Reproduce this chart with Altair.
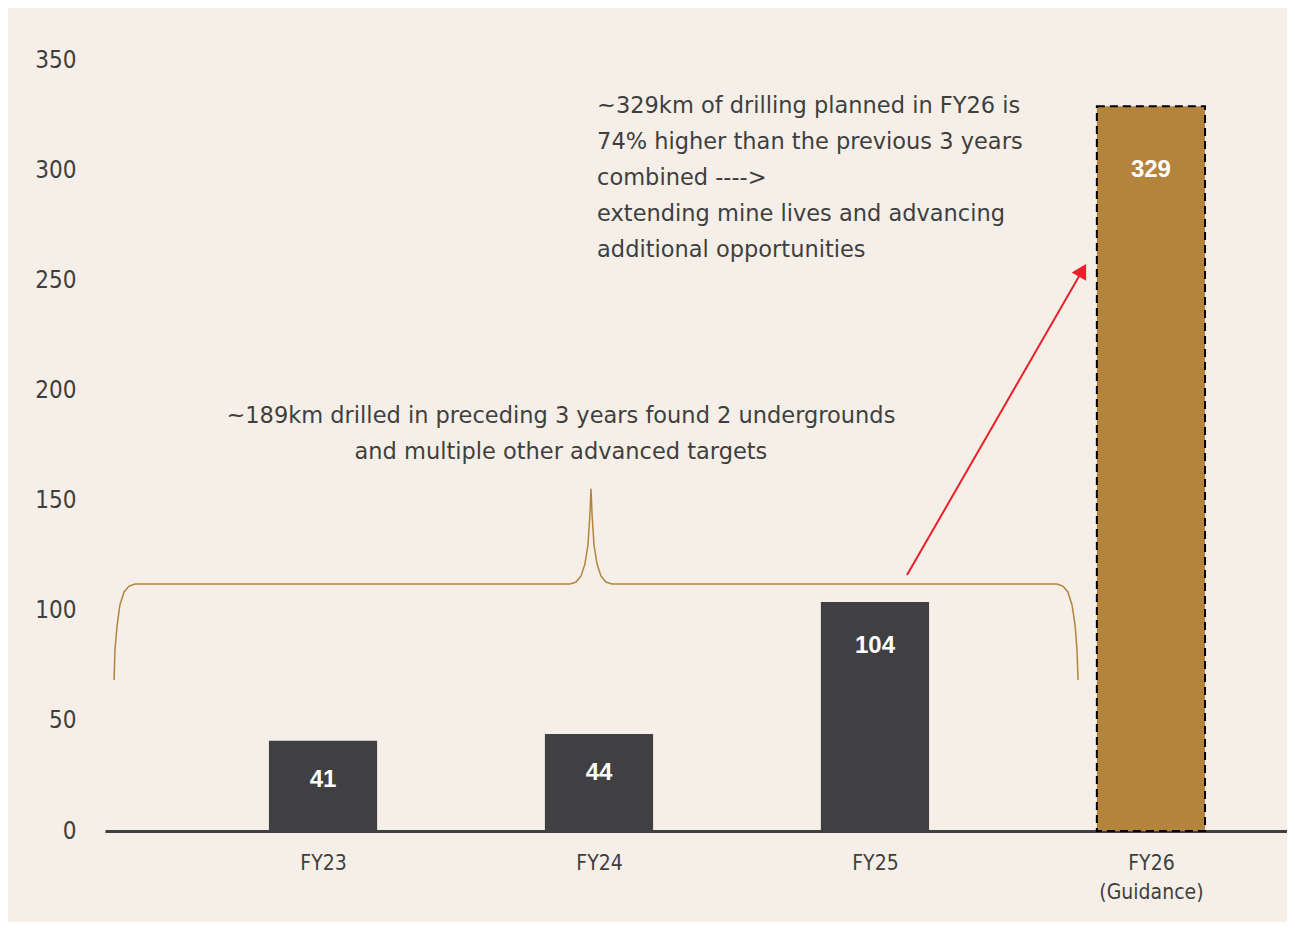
import json
import altair as alt
import pandas as pd

# ---------------- data ----------------
categories = ["FY23", "FY24", "FY25", "FY26"]
axis_labels = [["FY23"], ["FY24"], ["FY25"], ["FY26", "(Guidance)"]]
positions = [0, 1, 2, 3]
values = [41, 44, 104, 329]

# curly brace (x in category-index units, y in km)
brace_x = [-0.757, -0.754, -0.746, -0.736, -0.721, -0.703, -0.681,
           0.895, 0.917, 0.935, 0.949, 0.960, 0.967, 0.971,
           0.975, 0.982, 0.993, 1.007, 1.025, 1.047,
           2.659, 2.681, 2.699, 2.714, 2.725, 2.732, 2.736]
brace_y = [68.5, 82.2, 93.5, 102.6, 108.5, 111.2, 112.1,
           112.1, 113.0, 115.8, 121.2, 129.8, 143.4, 155.3,
           143.4, 129.8, 121.2, 115.8, 113.0, 112.1,
           112.1, 111.2, 108.5, 102.6, 93.5, 82.2, 68.5]

# red arrow (from, head)
arrow_x = [2.116, 2.752]
arrow_y = [116.2, 254.5]

note_top = ["~329km of drilling planned in FY26 is",
            "74% higher than the previous 3 years",
            "combined ---->",
            "extending mine lives and advancing",
            "additional opportunities"]
note_top_pos = (0.993, 329.1)

note_mid = ["~189km drilled in preceding 3 years found 2 undergrounds",
            "and multiple other advanced targets"]
note_mid_pos = (0.862, 188.4)

# ---------------- styles ----------------
BG = "#F5EFE8"
DARK = "#404042"
GOLD = "#B5843C"
TEXT = "#3F3F3F"
RED = "#E8202A"
NOTE_FONT = "DejaVu Sans"
XLAB_FONT = "DejaVu Sans Condensed"
YLAB_FONT = "Liberation Sans Narrow, DejaVu Sans Condensed"
BAR_FONT = "Liberation Sans"

bars = pd.DataFrame({"cat": categories, "pos": positions, "km": values})
brace = pd.DataFrame({"x": brace_x, "y": brace_y, "o": list(range(len(brace_x)))})
arrow = pd.DataFrame({"x": arrow_x, "y": arrow_y, "o": [0, 1]})
head = pd.DataFrame({"x": [arrow_x[-1]], "y": [arrow_y[-1]]})
notes = pd.DataFrame({
    "x": [note_top_pos[0], note_mid_pos[0]],
    "y": [note_top_pos[1], note_mid_pos[1]],
    "t": ["\n".join(note_top), "\n".join(note_mid)],
    "a": ["left", "center"],
})

label_expr = json.dumps(axis_labels) + "[datum.value]"

xscale = alt.Scale(domain=[-0.790, 3.493], nice=False, zero=False)
yscale = alt.Scale(domain=[0, 350], nice=False)

xaxis = alt.Axis(values=positions, labelExpr=label_expr, title=None, grid=False,
                 ticks=False, domain=True, domainColor="#404042", domainWidth=3,
                 labelFont=XLAB_FONT, labelFontSize=21, labelColor=TEXT, labelPadding=21,
                 labelLineHeight=29, labelFlush=False, labelOverlap=False)
yaxis = alt.Axis(values=[0, 50, 100, 150, 200, 250, 300, 350], title=None, grid=False,
                 ticks=False, domain=False, labelFont=YLAB_FONT, labelFontSize=24,
                 labelColor=TEXT, labelPadding=29)


def X(field):
    return alt.X(field, scale=xscale, axis=xaxis)


def Y(field):
    return alt.Y(field, scale=yscale, axis=yaxis)


base = alt.Chart(bars).transform_calculate(
    x0="datum.pos - 0.196", x1="datum.pos + 0.196",
    ly="datum.km - (16 + 0.04 * datum.km)"
)

dark_bars = base.transform_filter("datum.pos < 3").mark_bar(color=DARK).encode(
    x=X("x0:Q"), x2="x1:Q", y=Y("km:Q"), y2=alt.datum(0),
)
gold_bar = base.transform_filter("datum.pos == 3").mark_bar(
    color=GOLD, stroke="black", strokeWidth=2, strokeDash=[8, 5]
).encode(
    x=X("x0:Q"), x2="x1:Q", y=Y("km:Q"), y2=alt.datum(0),
)
bar_text = base.mark_text(color="white", font=BAR_FONT, fontSize=24, fontWeight="bold",
                          baseline="middle", align="center").encode(
    x=X("pos:Q"), y=Y("ly:Q"), text="km:Q",
)

brace_line = alt.Chart(brace).mark_line(color=GOLD, strokeWidth=1.5).encode(
    x=X("x:Q"), y=Y("y:Q"), order="o:Q",
)
arrow_line = alt.Chart(arrow).mark_line(color=RED, strokeWidth=2).encode(
    x=X("x:Q"), y=Y("y:Q"), order="o:Q",
)
arrow_head = alt.Chart(head).mark_point(shape="triangle-up", filled=True, color=RED,
                                        opacity=1, size=280, angle=30).encode(
    x=X("x:Q"), y=Y("y:Q"),
)

note_left = alt.Chart(notes).transform_filter("datum.a == 'left'").mark_text(
    align="left", baseline="middle", font=NOTE_FONT, fontSize=22.5, color=TEXT,
    lineBreak="\n", lineHeight=36).encode(
    x=X("x:Q"), y=Y("y:Q"), text="t:N",
)
note_center = alt.Chart(notes).transform_filter("datum.a == 'center'").mark_text(
    align="center", baseline="middle", font=NOTE_FONT, fontSize=22.5, color=TEXT,
    lineBreak="\n", lineHeight=36).encode(
    x=X("x:Q"), y=Y("y:Q"), text="t:N",
)

chart = alt.layer(
    dark_bars, gold_bar, bar_text, brace_line, arrow_line, arrow_head,
    note_left, note_center
).properties(
    width=1182, height=771,
    background=BG,
    padding={"left": 97, "top": 52, "right": 0, "bottom": 91},
    autosize=alt.AutoSizeParams(type="none"),
).configure_view(stroke=None)

chart.save("out.html", embed_options={"renderer": "svg", "actions": False})
